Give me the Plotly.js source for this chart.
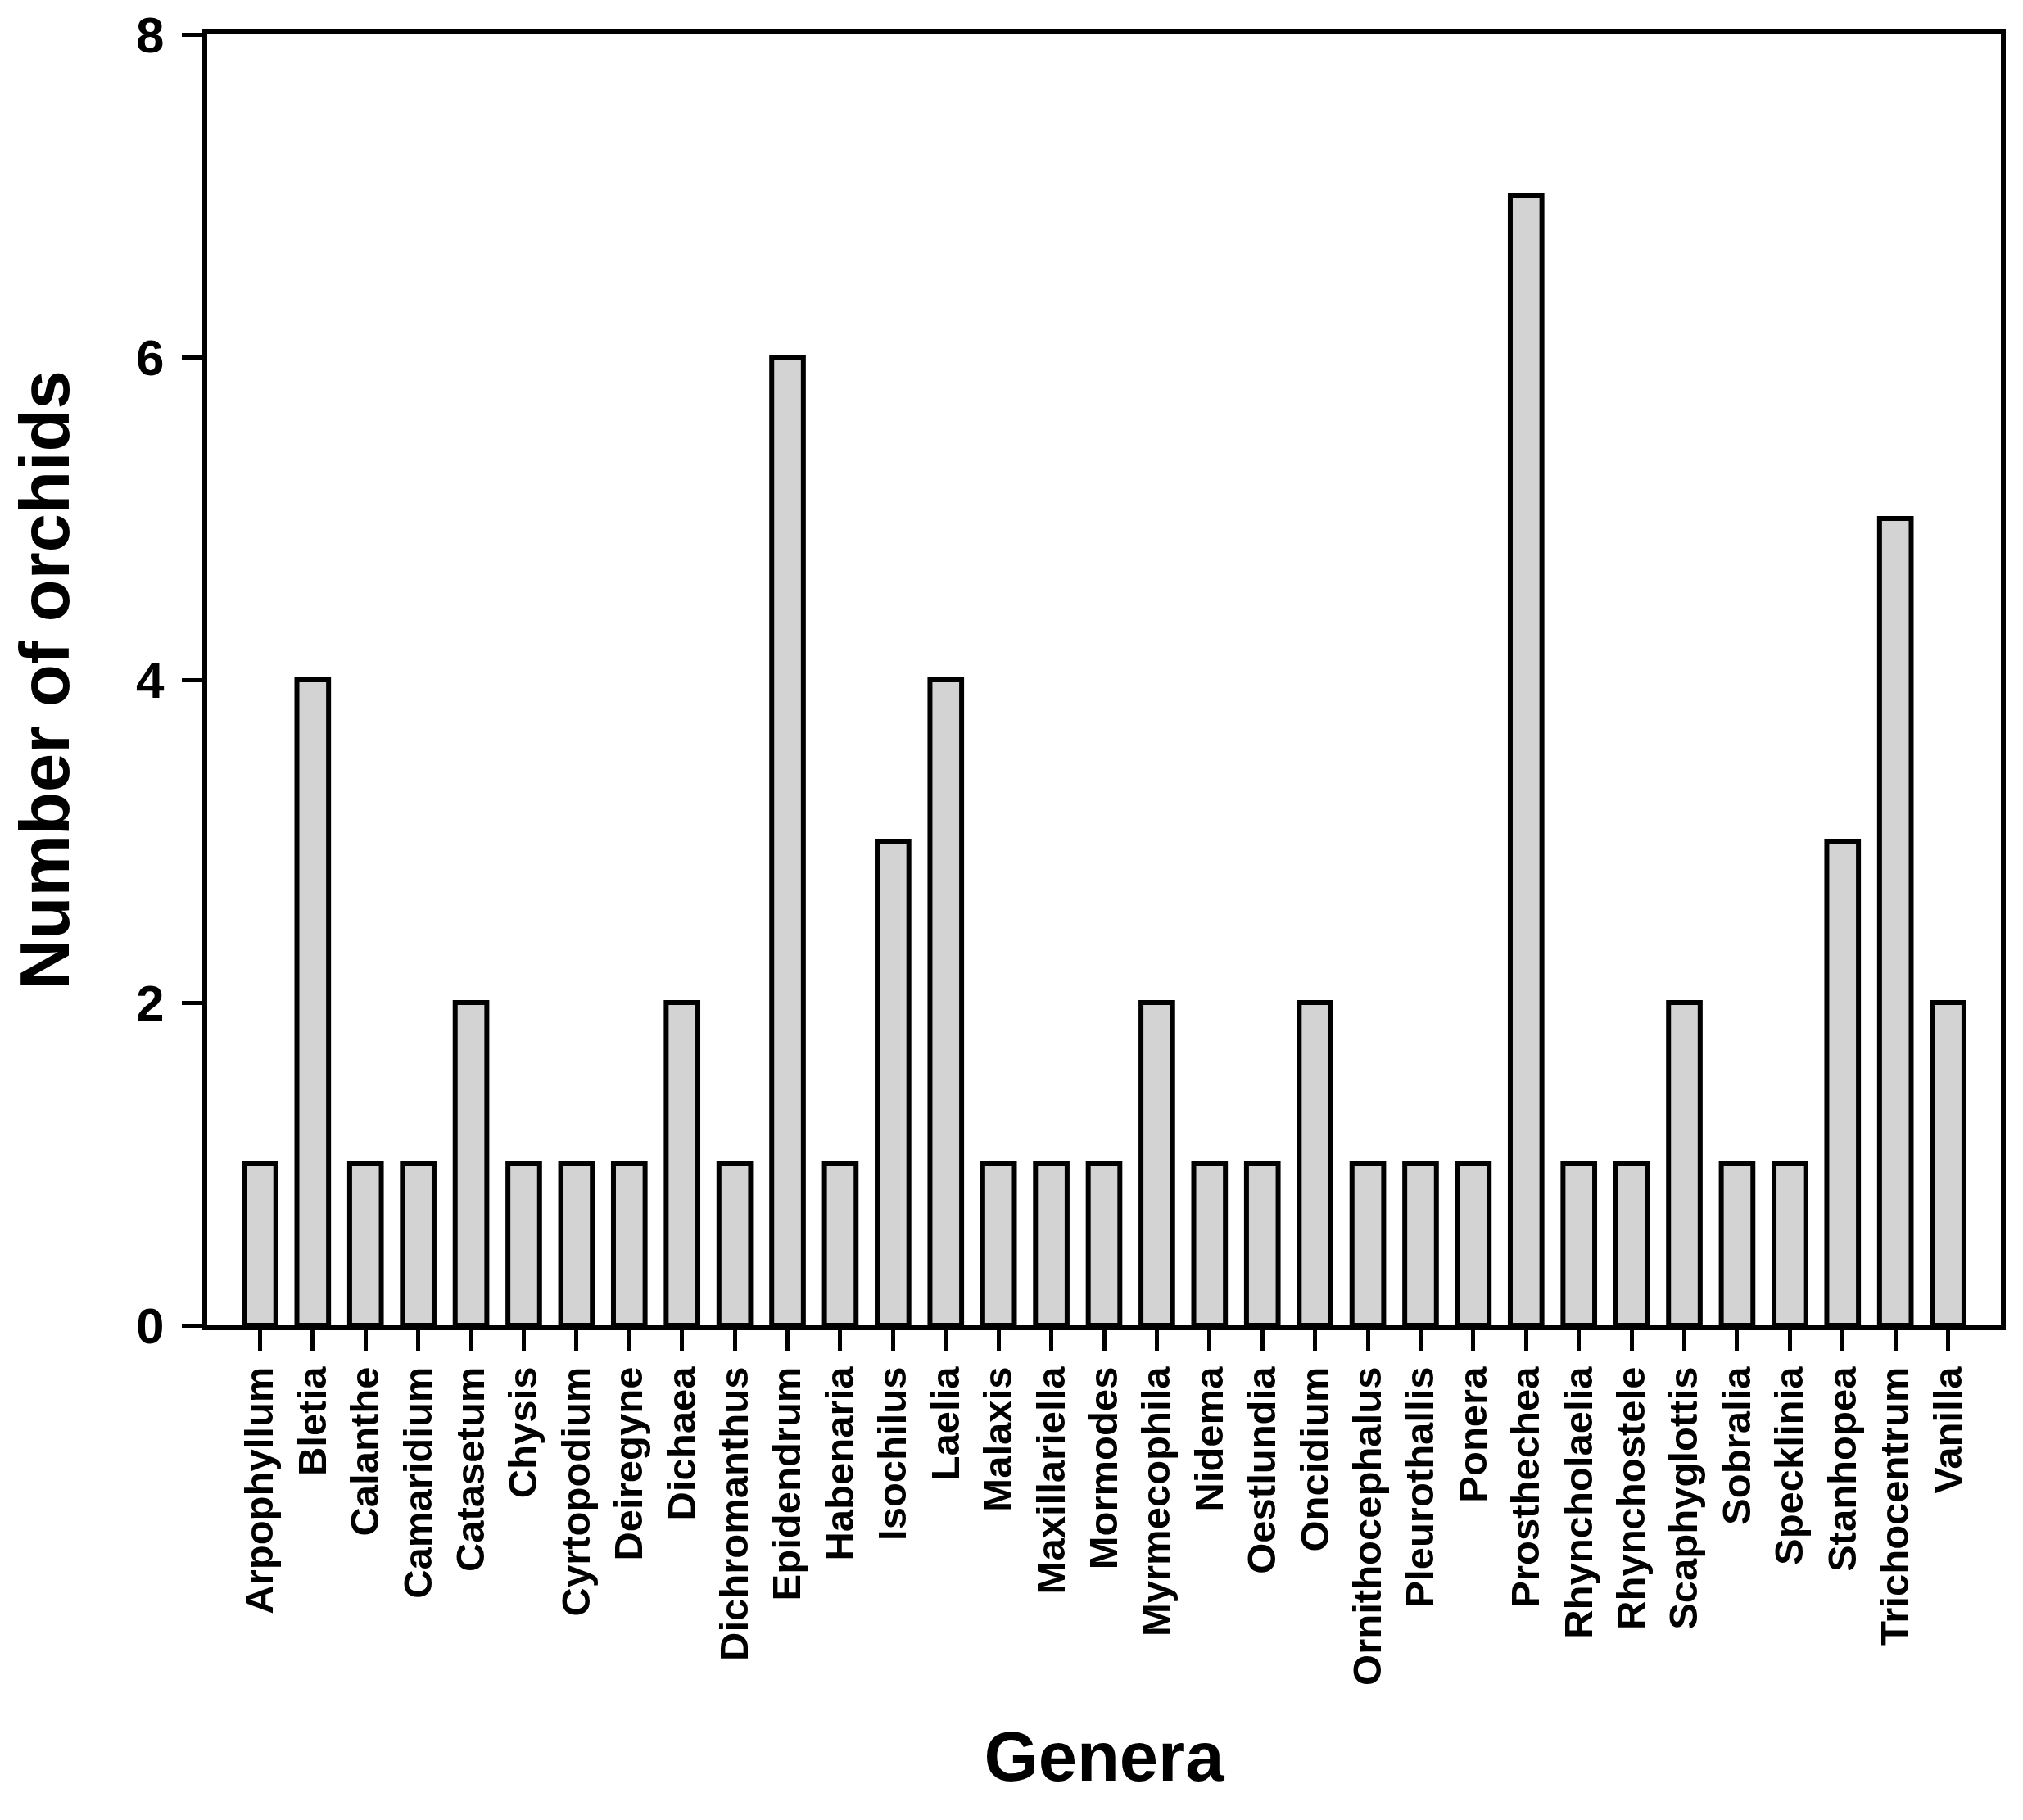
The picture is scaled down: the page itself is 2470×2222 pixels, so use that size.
<!DOCTYPE html>
<html>
<head>
<meta charset="utf-8">
<script src="https://cdn.plot.ly/plotly-3.0.1.min.js"></script>
<style>html,body{margin:0;padding:0;background:#fff;}#chart{width:2470px;height:2222px;}</style>
</head>
<body>
<div id="chart"></div>
<script>
const genera = ["Arpophyllum","Bletia","Calanthe","Camaridium","Catasetum","Chysis","Cyrtopodium","Deiregyne","Dichaea","Dichromanthus","Epidendrum","Habenaria","Isochilus","Laelia","Malaxis","Maxillariella","Mormodes","Myrmecophila","Nidema","Oestlundia","Oncidium","Ornithocephalus","Pleurothallis","Ponera","Prosthechea","Rhyncholaelia","Rhynchostele","Scaphyglottis","Sobralia","Specklinia","Stanhopea","Trichocentrum","Vanilla"];
const counts = [1,4,1,1,2,1,1,1,2,1,6,1,3,4,1,1,1,2,1,1,2,1,1,1,7,1,1,2,1,1,3,5,2];
const yTicks = [0,2,4,6,8];

const FONT = "Liberation Sans, Arial, sans-serif";

const trace = {
  type: "bar",
  x: genera,
  y: counts,
  width: 0.6,
  marker: {color: "#d3d3d3", line: {color: "#000", width: 6}},
  hoverinfo: "x+y"
};

const layout = {
  width: 2470,
  height: 2222,
  margin: {l: 253, r: 27, t: 42, b: 604},
  paper_bgcolor: "#fff",
  plot_bgcolor: "#fff",
  showlegend: false,
  font: {family: FONT, color: "#000"},
  xaxis: {
    type: "category",
    range: [-1, genera.length],
    showline: true, linecolor: "#000", linewidth: 6, mirror: true,
    showgrid: false, zeroline: false,
    ticks: "outside", ticklen: 25, tickwidth: 5, tickcolor: "#000",
    tickangle: -90,
    tickfont: {family: FONT, size: 49, color: "#000", weight: "bold"},
    title: {text: "<b>Genera</b>", font: {family: FONT, size: 85, color: "#000"}, standoff: 60},
    automargin: false
  },
  yaxis: {
    range: [0, 8],
    tickvals: yTicks,
    ticktext: yTicks.map(String),
    showline: true, linecolor: "#000", linewidth: 6, mirror: true,
    showgrid: false, zeroline: false,
    ticks: "outside", ticklen: 25, tickwidth: 5, tickcolor: "#000",
    tickfont: {family: FONT, size: 62, color: "#000", weight: "bold"},
    ticklabelstandoff: 9,
    title: {text: "<b>Number of orchids</b>", font: {family: FONT, size: 85, color: "#000"}, standoff: 55},
    automargin: false
  },
  bargap: 0.4
};

Plotly.newPlot("chart", [trace], layout, {displayModeBar: false, staticPlot: true});
</script>
</body>
</html>
